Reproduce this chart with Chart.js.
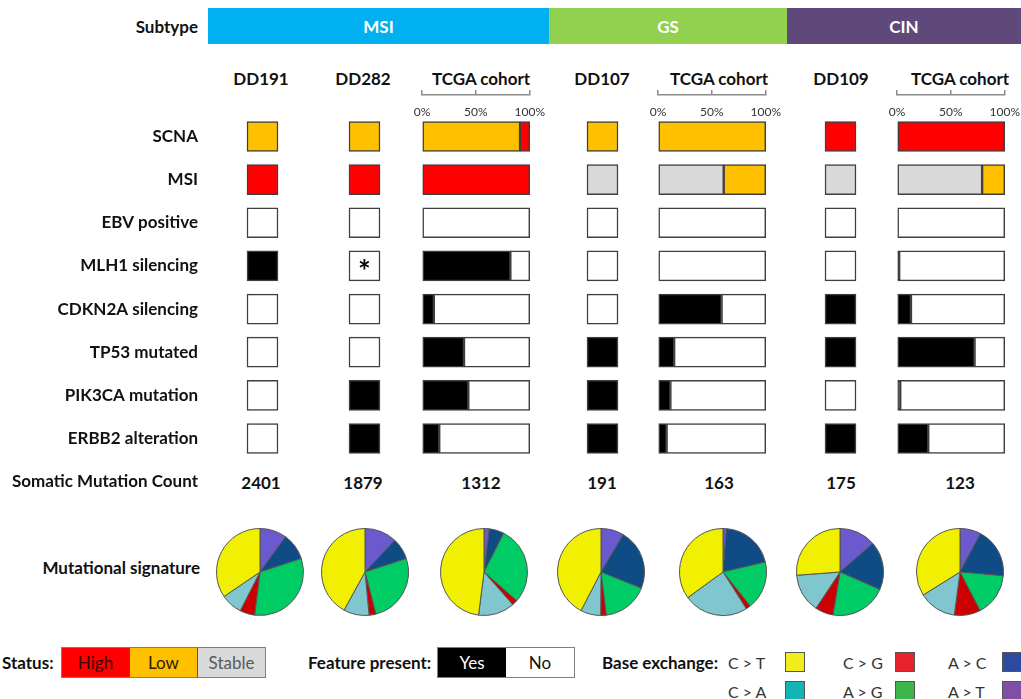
<!DOCTYPE html>
<html>
<head>
<meta charset="utf-8">
<script src="https://cdn.jsdelivr.net/npm/chart.js@4.4.1/dist/chart.umd.min.js"></script>
<style>
  body { margin: 0; width: 1021px; height: 699px; position: relative; overflow: hidden; background: #fff; font-family: Lato, 'Open Sans', sans-serif; }
  canvas { position: absolute; }
  .t { position: absolute; white-space: nowrap; font-weight: bold; font-size: 17px; color: #111; }
  .band { position: absolute; top: 8px; height: 36px; color: #fff; font-weight: bold; font-size: 17px; display: flex; align-items: center; justify-content: center; }
  .lg { position: absolute; display: flex; border: 1.5px solid #7f7f7f; height: 29px; font-size: 17px; }
  .lg div { display: flex; align-items: center; justify-content: center; }
  .sw { position: absolute; width: 18px; height: 18px; border: 1px solid #555; }
</style>
</head>
<body>
<script>
// rows of the status matrix
const rows = ['SCNA', 'MSI', 'EBV positive', 'MLH1 silencing', 'CDKN2A silencing', 'TP53 mutated', 'PIK3CA mutation', 'ERBB2 alteration'];
const subtypes = ['MSI', 'GS', 'CIN'];
const columns = ['DD191', 'DD282', 'TCGA cohort', 'DD107', 'TCGA cohort', 'DD109', 'TCGA cohort'];

// single tumours: SCNA / MSI status, then feature present Yes / No
const dd191 = ['Low', 'High', 'No', 'Yes', 'No', 'No', 'No', 'No'];
const dd282 = ['Low', 'High', 'No', 'No', 'No', 'No', 'Yes', 'Yes'];
const dd107 = ['Low', 'Stable', 'No', 'No', 'No', 'Yes', 'Yes', 'Yes'];
const dd109 = ['High', 'Stable', 'No', 'No', 'Yes', 'Yes', 'No', 'Yes'];
const asteriskSample = 'DD282';
const asteriskRow = 'MLH1 silencing';

// TCGA cohorts, % of tumours: [Stable, Low, High]
const msiScna = [0, 91, 9];
const msiMsi = [0, 0, 100];
const gsScna = [0, 100, 0];
const gsMsi = [61, 39, 0];
const cinScna = [0, 0, 100];
const cinMsi = [79, 21, 0];
// TCGA cohorts, % with feature (EBV .. ERBB2)
const msiYes = [0, 82, 11, 39, 43, 16];
const gsYes = [0, 0, 59, 15, 11.5, 8];
const cinYes = [0, 2, 13, 72, 3, 29];

const mutationCounts = [2401, 1879, 1312, 191, 163, 175, 123];

// mutational signature, clockwise from 12 o'clock
const baseExchanges = ['A > T', 'A > C', 'A > G', 'C > G', 'C > A', 'C > T'];
const sigDD191 = [10, 10, 32, 5.5, 8, 34.5];
const sigDD282 = [12, 8, 26, 2.5, 9.5, 42];
const sigTcgaMsi = [2, 5.5, 29, 2, 13.5, 48];
const sigDD107 = [8.6, 22.5, 17, 2, 7.5, 42.4];
const sigTcgaGs = [1.3, 20, 18, 1.7, 24, 35];
const sigDD109 = [13.6, 18, 21, 6.7, 14.5, 26.2];
const sigTcgaCin = [7.8, 18.6, 16, 9.7, 14, 33.9];

const statusLevels = ['Stable', 'Low', 'High'];
const featureLevels = ['Yes', 'No'];
const levelColors = { Stable: '#D9D9D9', Low: '#FFC000', High: '#FF0000', Yes: '#000000', No: '#FFFFFF' };
const pieColors = ['#6A5ACD', '#0F4C85', '#00CC66', '#CC0000', '#7FC6CE', '#F0F000'];

const font = 'Lato, "Open Sans", sans-serif';
const Y_MIN = -0.962, Y_MAX = 8.496;
const AREA_TOP = 95, AREA_H = 408;

function makeCanvas(left, top, w, h) {
  const c = document.createElement('canvas');
  c.width = w; c.height = h;
  c.style.left = left + 'px';
  c.style.top = top + 'px';
  document.body.appendChild(c);
  return c;
}

function text(str, x, y, align, css) {
  const d = document.createElement('div');
  d.className = 't';
  d.textContent = str;
  d.style.left = x + 'px';
  d.style.top = y + 'px';
  d.style.transform = align === 'right' ? 'translate(-100%,-50%)' : align === 'left' ? 'translate(0,-50%)' : 'translate(-50%,-50%)';
  Object.assign(d.style, css || {});
  document.body.appendChild(d);
  return d;
}

function ds(level, points) {
  return {
    label: level,
    data: points,
    backgroundColor: levelColors[level],
    borderColor: '#3F3F3F',
    borderWidth: 1.5,
    borderSkipped: false,
    barThickness: 30,
    clip: false
  };
}

function sampleDatasets(values) {
  return statusLevels.concat(featureLevels).map(level =>
    ds(level, values.map((v, i) => v === level ? { x: 100, y: i } : null).filter(Boolean)));
}

function cohortDatasets(scna, msi, yes) {
  const pts = (arr, offset) => arr.map((v, i) => ({ x: v, y: i + offset })).filter(p => p.x > 0);
  return [
    ...statusLevels.map((l, k) => ds(l, pts([scna[k], msi[k]], 0))),
    ds('Yes', pts(yes, 2)),
    ds('No', pts(yes.map(v => 100 - v), 2))
  ];
}

const asteriskPlugin = {
  id: 'asterisk',
  afterDatasetsDraw(chart) {
    if (chart.options.sampleName !== asteriskSample) return;
    const { ctx, scales } = chart;
    ctx.save();
    ctx.font = 'bold 30px ' + font;
    ctx.fillStyle = '#000';
    ctx.textAlign = 'center';
    ctx.textBaseline = 'middle';
    ctx.fillText('*', scales.x.getPixelForValue(50), scales.y.getPixelForValue(rows.indexOf(asteriskRow)) + 6);
    ctx.restore();
  }
};

function baseOptions(padding, xScale, yScale, name) {
  return {
    indexAxis: 'y',
    responsive: false,
    animation: false,
    events: [],
    sampleName: name,
    layout: { padding },
    plugins: { legend: { display: false }, tooltip: { enabled: false } },
    scales: { x: xScale, y: yScale }
  };
}

const hiddenX = { type: 'linear', min: 0, max: 100, stacked: true, display: false };
const hiddenY = { type: 'linear', reverse: true, offset: false, min: Y_MIN, max: Y_MAX, stacked: true, display: false };

// single tumour column; the first one carries the row labels
function sampleChart(name, values, boxLeft, withLabels) {
  const boxW = 31;
  if (withLabels) {
    const labels = rows.concat(['Somatic Mutation Count']);
    const pad = 18;
    const c = makeCanvas(0, AREA_TOP - pad, boxLeft + boxW + 2, AREA_H + 2 * pad);
    const y = Object.assign({}, hiddenY, {
      display: true,
      position: 'left',
      afterBuildTicks: s => { s.ticks = labels.map((_, i) => ({ value: i })); },
      afterFit: s => { s.width = boxLeft; },
      grid: { display: false, drawTicks: true, tickLength: 45 },
      border: { display: false },
      ticks: { padding: 4, autoSkip: false, color: '#111', font: { family: font, weight: 'bold', size: 17 }, callback: v => labels[v] }
    });
    return new Chart(c, { type: 'bar', data: { datasets: sampleDatasets(values) },
      options: baseOptions({ left: 0, right: 2, top: pad, bottom: pad }, hiddenX, y, name), plugins: [asteriskPlugin] });
  }
  const c = makeCanvas(boxLeft - 2, AREA_TOP - 2, boxW + 4, AREA_H + 4);
  return new Chart(c, { type: 'bar', data: { datasets: sampleDatasets(values) },
    options: baseOptions(2, hiddenX, hiddenY, name), plugins: [asteriskPlugin] });
}

// TCGA cohort column with 0-100% axis on top
function cohortChart(barLeft, datasets) {
  const barW = 109, side = 24, axisH = 5 + 2 * 10;
  const c = makeCanvas(barLeft - side, AREA_TOP - axisH - 2, barW + 2 * side, AREA_H + axisH + 4);
  const x = {
    type: 'linear', position: 'top', min: 0, max: 100, stacked: true,
    grid: { drawOnChartArea: false, color: '#8C8C8C', lineWidth: 1.5, tickLength: 5 },
    border: { color: '#8C8C8C', width: 1.5 },
    ticks: { stepSize: 50, mirror: true, padding: 10, maxRotation: 0, autoSkip: false, color: '#333',
      font: { family: font, size: 12 }, callback: v => v + '%' }
  };
  return new Chart(c, { type: 'bar', data: { datasets },
    options: baseOptions({ left: side, right: side, top: 2, bottom: 2 }, x, hiddenY, 'TCGA') });
}

function pie(cx, cy, data) {
  const c = makeCanvas(cx - 45, cy - 45, 90, 90);
  return new Chart(c, {
    type: 'pie',
    data: { labels: baseExchanges, datasets: [{ data, backgroundColor: pieColors, borderColor: '#555', borderWidth: 1 }] },
    options: { responsive: false, animation: false, events: [], layout: { padding: 1 },
      plugins: { legend: { display: false }, tooltip: { enabled: false } } }
  });
}

// subtype header band
text('Subtype', 198, 26, 'right');
const bandEdges = [208, 549, 787, 1021];
const bandColors = ['#00B0F0', '#92D050', '#5F497A'];
subtypes.forEach((s, i) => {
  const b = document.createElement('div');
  b.className = 'band';
  b.style.left = bandEdges[i] + 'px';
  b.style.width = (bandEdges[i + 1] - bandEdges[i]) + 'px';
  b.style.background = bandColors[i];
  b.textContent = s;
  document.body.appendChild(b);
});

// column headers and mutation counts
const headerX = [261, 363, 481, 602, 719, 841, 960];
columns.forEach((c, i) => text(c, headerX[i], 78, 'center'));
mutationCounts.forEach((n, i) => text(String(n), headerX[i], 482, 'center'));

// matrix
sampleChart('DD191', dd191, 247, true);
sampleChart('DD282', dd282, 349, false);
cohortChart(422, cohortDatasets(msiScna, msiMsi, msiYes));
sampleChart('DD107', dd107, 587, false);
cohortChart(658, cohortDatasets(gsScna, gsMsi, gsYes));
sampleChart('DD109', dd109, 825, false);
cohortChart(897, cohortDatasets(cinScna, cinMsi, cinYes));

// mutational signatures
text('Mutational signature', 200, 567, 'right');
const pieX = [260, 365, 484, 601, 723, 840, 960];
[sigDD191, sigDD282, sigTcgaMsi, sigDD107, sigTcgaGs, sigDD109, sigTcgaCin].forEach((d, i) => pie(pieX[i], 572, d));

// legends
text('Status:', 2, 662, 'left');
const statusBox = document.createElement('div');
statusBox.className = 'lg';
statusBox.style.left = '61px'; statusBox.style.top = '647px';
[['High', '#FF0000', '#3A0000'], ['Low', '#FFC000', '#2A2000'], ['Stable', '#D9D9D9', '#595959']].forEach(([t, bg, fg], i) => {
  const d = document.createElement('div');
  d.textContent = t;
  d.style.cssText = 'width:67px;background:' + bg + ';color:' + fg + (i ? ';border-left:1.5px solid #555' : '');
  statusBox.appendChild(d);
});
document.body.appendChild(statusBox);

text('Feature present:', 308, 662, 'left');
const featBox = document.createElement('div');
featBox.className = 'lg';
featBox.style.left = '437px'; featBox.style.top = '647px';
[['Yes', '#000', '#fff'], ['No', '#fff', '#111']].forEach(([t, bg, fg]) => {
  const d = document.createElement('div');
  d.textContent = t;
  d.style.cssText = 'width:68px;background:' + bg + ';color:' + fg;
  featBox.appendChild(d);
});
document.body.appendChild(featBox);

text('Base exchange:', 602, 662, 'left');
const legendOrder = ['C > T', 'C > G', 'A > C', 'C > A', 'A > G', 'A > T'];
const legendColors = ['#F2EC1C', '#E8232B', '#2E4A9E', '#15B4B4', '#3CB54A', '#7E4FA3'];
const legX = [728, 843, 948];
const swX = [785, 895, 1002];
legendOrder.forEach((l, i) => {
  const col = i % 3, y = i < 3 ? 662 : 691;
  text(l, legX[col], y, 'left', { fontWeight: 'normal', fontSize: '16px', color: '#333' });
  const s = document.createElement('div');
  s.className = 'sw';
  s.style.left = swX[col] + 'px';
  s.style.top = (y - 10) + 'px';
  s.style.background = legendColors[i];
  document.body.appendChild(s);
});
</script>
</body>
</html>
